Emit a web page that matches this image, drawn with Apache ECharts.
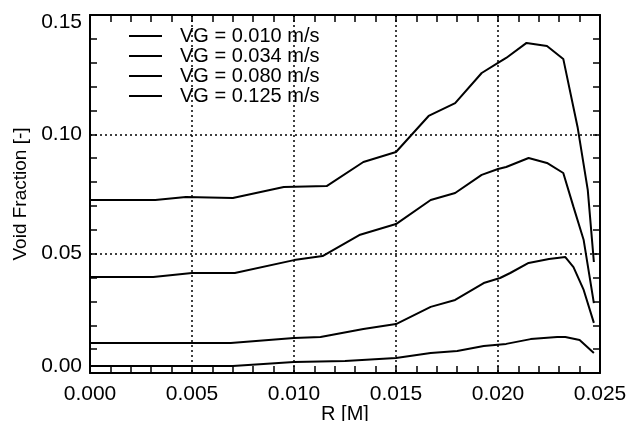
<!DOCTYPE html>
<html>
<head>
<meta charset="utf-8">
<script src="https://cdn.jsdelivr.net/npm/echarts@6/dist/echarts.min.js"></script>
<style>
  html, body { margin: 0; padding: 0; background: #fff; }
  #chart { width: 628px; height: 421px; }
</style>
</head>
<body>
<div id="chart"></div>
<script>
// radius positions [m] and void fraction [-] for each gas velocity
const seriesNames = ['VG = 0.010 m/s', 'VG = 0.034 m/s', 'VG = 0.080 m/s', 'VG = 0.125 m/s']

const r010 = [0, 0.0070, 0.0100, 0.0125, 0.0150, 0.0167, 0.0180, 0.0193, 0.0204, 0.0216, 0.0229, 0.0233, 0.0240, 0.0247]
const vf010 = [0.0029, 0.0029, 0.0046, 0.0050, 0.0063, 0.0084, 0.0092, 0.0113, 0.0122, 0.0142, 0.0151, 0.0151, 0.0138, 0.0084]

const r034 = [0, 0.0069, 0.0100, 0.0113, 0.0134, 0.0150, 0.0167, 0.0179, 0.0193, 0.0201, 0.0206, 0.0215, 0.0225, 0.0233, 0.0237, 0.0242, 0.0247]
const vf034 = [0.0126, 0.0126, 0.0147, 0.0151, 0.0184, 0.0205, 0.0277, 0.0306, 0.0377, 0.0398, 0.0419, 0.0461, 0.0478, 0.0486, 0.0444, 0.0348, 0.0210]

const r080 = [0, 0.0031, 0.0050, 0.0071, 0.0100, 0.0114, 0.0132, 0.0150, 0.0167, 0.0179, 0.0192, 0.0200, 0.0204, 0.0215, 0.0224, 0.0232, 0.0237, 0.0242, 0.0247]
const vf080 = [0.0402, 0.0402, 0.0419, 0.0419, 0.0473, 0.0490, 0.0578, 0.0624, 0.0725, 0.0754, 0.0830, 0.0855, 0.0863, 0.0901, 0.0880, 0.0838, 0.0696, 0.0557, 0.0293]

const r125 = [0, 0.0032, 0.0047, 0.0070, 0.0095, 0.0116, 0.0134, 0.0150, 0.0166, 0.0179, 0.0192, 0.0200, 0.0204, 0.0214, 0.0224, 0.0232, 0.0239, 0.0244, 0.0247]
const vf125 = [0.0725, 0.0725, 0.0737, 0.0733, 0.0779, 0.0783, 0.0884, 0.0926, 0.1077, 0.1131, 0.1257, 0.1299, 0.1320, 0.1383, 0.1370, 0.1316, 0.1031, 0.0767, 0.0465]

const xTicks = [0, 0.005, 0.010, 0.015, 0.020, 0.025]
const yTicks = [0, 0.05, 0.10, 0.15]

const allR = [r010, r034, r080, r125]
const allVf = [vf010, vf034, vf080, vf125]

const chart = echarts.init(document.getElementById('chart'))

const font = 'Liberation Sans, Arial, sans-serif'
const tickStyle = { show: true, inside: true, length: 7, lineStyle: { color: '#000', width: 1.5 } }
const minorStyle = { show: true, splitNumber: 5, length: 7, lineStyle: { color: '#000', width: 1.5 } }
const dotted = { show: true, lineStyle: { color: '#000', width: 1.5, type: [2, 3] } }
const frameLine = { show: true, onZero: false, lineStyle: { color: '#000', width: 2 } }

const yMin = yTicks[0]
const yMax = yTicks[yTicks.length - 1]

const option = {
  animation: false,
  backgroundColor: '#fff',
  grid: { left: 90, right: 28, top: 15, bottom: 48, containLabel: false, outerBoundsMode: 'none' },
  legend: {
    orient: 'vertical',
    left: 124,
    top: 21,
    icon: 'rect',
    itemWidth: 33,
    itemHeight: 2,
    itemGap: 0,
    data: seriesNames,
    textStyle: { fontFamily: font, fontSize: 20, lineHeight: 19.5, color: '#000', padding: [0, 0, 0, 13] }
  },
  xAxis: [
    {
      type: 'value',
      min: xTicks[0],
      max: xTicks[xTicks.length - 1],
      interval: 0.005,
      name: 'R [M]',
      nameLocation: 'middle',
      nameGap: 31,
      nameMoveOverlap: false,
      nameTextStyle: { fontFamily: font, fontSize: 20, color: '#000' },
      axisLine: frameLine,
      axisTick: tickStyle,
      minorTick: minorStyle,
      axisLabel: {
        fontFamily: font, fontSize: 21, color: '#000', margin: 11,
        formatter: v => v.toFixed(3)
      },
      splitLine: dotted
    },
    {
      type: 'value',
      position: 'top',
      min: xTicks[0],
      max: xTicks[xTicks.length - 1],
      interval: 0.005,
      axisLine: frameLine,
      axisTick: tickStyle,
      minorTick: minorStyle,
      axisLabel: { show: false },
      splitLine: { show: false }
    }
  ],
  yAxis: [
    {
      type: 'value',
      min: yMin,
      max: yMax,
      interval: 0.05,
      name: 'Void Fraction [-]',
      nameLocation: 'middle',
      nameGap: 58,
      nameTextStyle: { fontFamily: font, fontSize: 19, color: '#000' },
      axisLine: frameLine,
      axisTick: tickStyle,
      minorTick: minorStyle,
      axisLabel: {
        fontFamily: font, fontSize: 21, color: '#000', margin: 8,
        formatter: v => {
          const s = v.toFixed(2)
          if (Math.abs(v - yMin) < 1e-9) return '{lo|' + s + '}'
          if (Math.abs(v - yMax) < 1e-9) return '{hi|' + s + '}'
          return s
        },
        rich: {
          lo: { fontFamily: font, fontSize: 21, color: '#000', padding: [0, 0, 14, 0] },
          hi: { fontFamily: font, fontSize: 21, color: '#000', padding: [14, 0, 0, 0] }
        }
      },
      splitLine: dotted
    },
    {
      type: 'value',
      position: 'right',
      min: yMin,
      max: yMax,
      interval: 0.05,
      axisLine: frameLine,
      axisTick: tickStyle,
      minorTick: minorStyle,
      axisLabel: { show: false },
      splitLine: { show: false }
    }
  ],
  series: seriesNames.map((name, i) => ({
    name: name,
    type: 'line',
    symbol: 'none',
    xAxisIndex: 0,
    yAxisIndex: 0,
    lineStyle: { color: '#000', width: 2 },
    itemStyle: { color: '#000' },
    data: allR[i].map((r, j) => [r, allVf[i][j]])
  }))
}

chart.setOption(option)
</script>
</body>
</html>
